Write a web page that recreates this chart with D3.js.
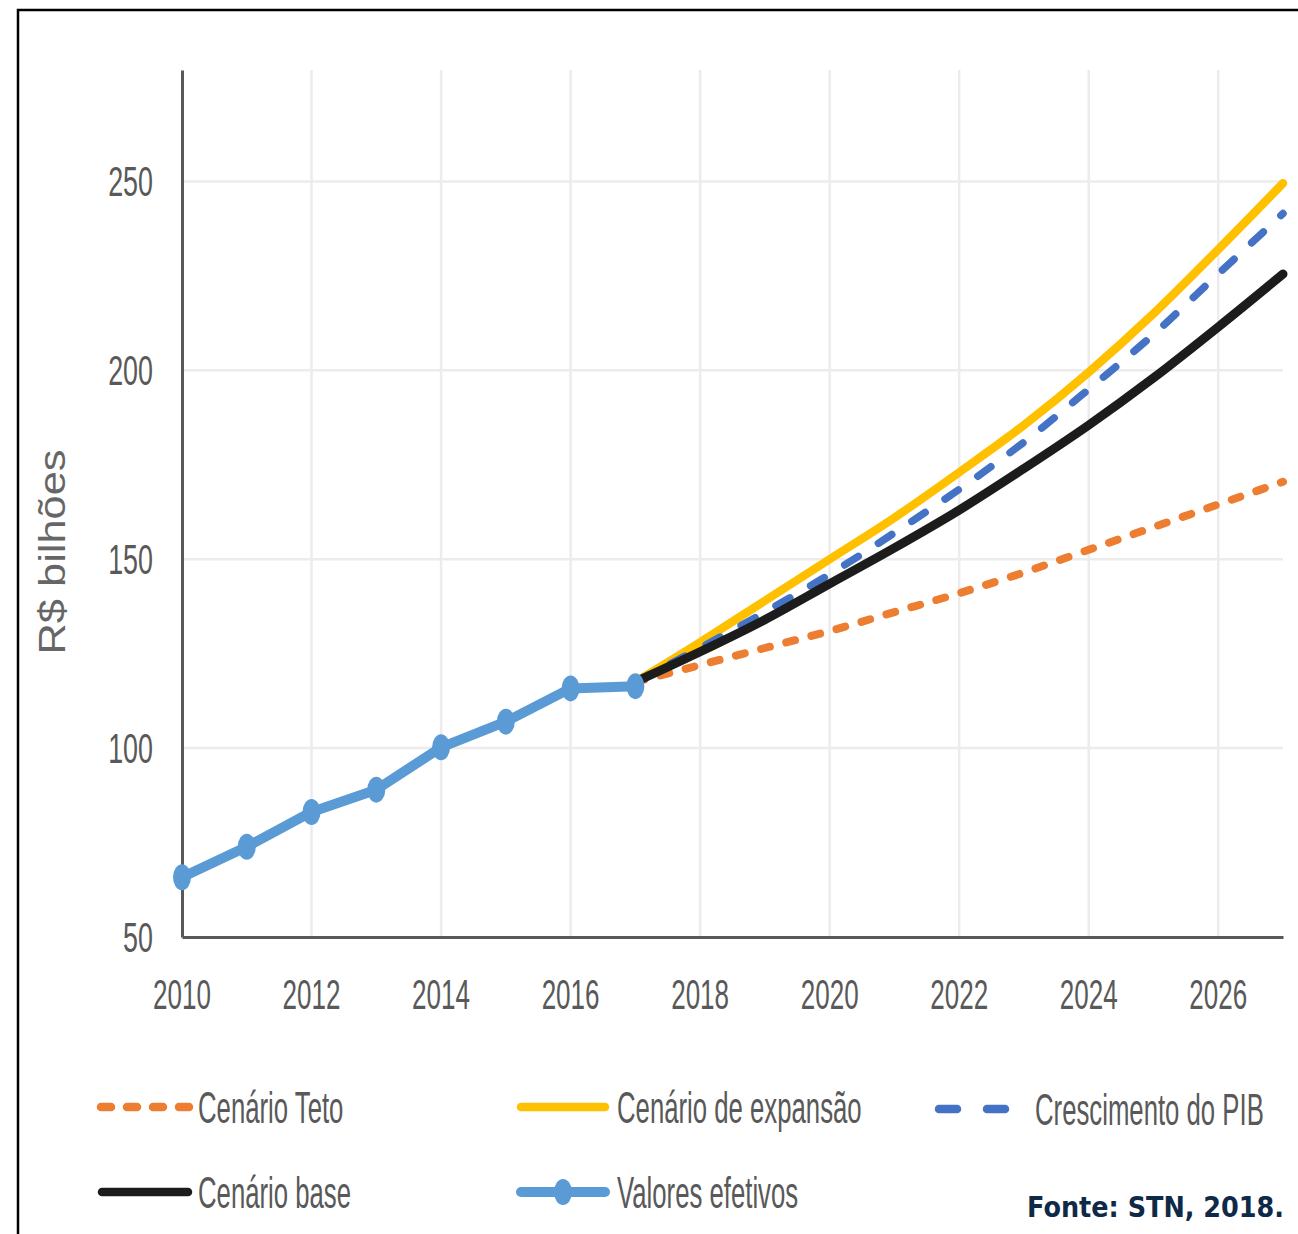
<!DOCTYPE html>
<html>
<head>
<meta charset="utf-8">
<script src="https://cdn.jsdelivr.net/npm/d3@7"></script>
<style>
  html, body { margin: 0; padding: 0; background: #fff; }
  svg { display: block; }
</style>
</head>
<body>
<svg id="chart" width="1298" height="1234"></svg>
<script>
// Despesa observada (R$ bilhões)
const actualYears = [2010, 2011, 2012, 2013, 2014, 2015, 2016, 2017];
const actualValues = [65.8, 73.9, 83.1, 89.0, 100.2, 107.0, 115.8, 116.4];

// Projeções 2017–2027 por cenário
const projYears = [2017, 2018, 2019, 2020, 2021, 2022, 2023, 2024, 2025, 2026, 2027];
const tetoValues = [117.5, 122, 126.5, 131, 136, 141, 146.5, 152.5, 158.5, 164.5, 170.5];
const expansaoValues = [117.5, 128, 139, 150, 161, 173, 185.5, 199.5, 215, 232, 249.5];
const pibValues = [117.5, 126.5, 136, 146, 157, 168.5, 181, 195, 209.5, 225.5, 241.5];
const baseValues = [117.5, 125.5, 134, 143.5, 153, 163, 174, 185.5, 198, 211.5, 225.5];

const yTicks = [50, 100, 150, 200, 250];
const xTicks = [2010, 2012, 2014, 2016, 2018, 2020, 2022, 2024, 2026];

const seriesNames = ["Cenário Teto", "Cenário de expansão", "Crescimento do PIB", "Cenário base", "Valores efetivos"];

const svg = d3.select("#chart");
const FONT = "'Liberation Sans', Arial, sans-serif";
const GRAY = "#595959";

// moldura
svg.append("rect")
  .attr("x", 18).attr("y", 10)
  .attr("width", 1320).attr("height", 1260)
  .attr("fill", "none").attr("stroke", "#000").attr("stroke-width", 2.5);

const x = d3.scaleLinear().domain([2010, 2027]).range([182, 1283]);
const y = d3.scaleLinear().domain([50, 279.5]).range([937, 70]);

// texto condensado
function label(g, txt, px, py, opts) {
  return g.append("text")
    .attr("transform", `translate(${px},${py}) scale(${opts.sx},1)`)
    .attr("font-family", opts.family || FONT)
    .attr("font-size", opts.size)
    .attr("font-weight", opts.weight || "normal")
    .attr("fill", opts.fill || GRAY)
    .attr("text-anchor", opts.anchor || "start")
    .text(txt);
}

// grade
const grid = svg.append("g");
grid.selectAll("line.h").data(yTicks.filter(v => v > 50)).join("line")
  .attr("x1", x(2010)).attr("x2", x(2027))
  .attr("y1", d => y(d)).attr("y2", d => y(d))
  .attr("stroke", "#ececec").attr("stroke-width", 2.5);
grid.selectAll("line.v").data(xTicks.filter(v => v > 2010)).join("line")
  .attr("x1", d => x(d)).attr("x2", d => x(d))
  .attr("y1", y.range()[1]).attr("y2", y(50))
  .attr("stroke", "#ececec").attr("stroke-width", 2.5);

// eixos
const yAxis = svg.append("g").attr("transform", `translate(${x(2010)},0)`)
  .call(d3.axisLeft(y).tickValues(yTicks).tickSize(0).tickFormat(""));
yAxis.select(".domain").attr("stroke", GRAY).attr("stroke-width", 3);
const xAxis = svg.append("g").attr("transform", `translate(0,${y(50)})`)
  .call(d3.axisBottom(x).tickValues(xTicks).tickSize(0).tickFormat(""));
xAxis.select(".domain").attr("stroke", GRAY).attr("stroke-width", 3);

const tickG = svg.append("g");
yTicks.forEach(v => label(tickG, String(v), 153, y(v) + 15, { size: 42, sx: 0.64, anchor: "end" }));
xTicks.forEach(v => label(tickG, String(v), x(v), 1009, { size: 42, sx: 0.62, anchor: "middle" }));

// título do eixo
svg.append("text")
  .attr("transform", `translate(65,${552}) rotate(-90)`)
  .attr("font-family", FONT).attr("font-size", 36)
  .attr("fill", "#666").attr("text-anchor", "middle")
  .attr("textLength", 205).attr("lengthAdjust", "spacingAndGlyphs")
  .text("R$ bilhões");

// linhas
const smooth = d3.line().x((d, i) => x(projYears[i])).y(d => y(d)).curve(d3.curveMonotoneX);
const straight = d3.line().x((d, i) => x(actualYears[i])).y(d => y(d));

const styles = {
  teto: { color: "#ED7D31", width: 8, dash: "9 17", cap: "round" },
  expansao: { color: "#FFC000", width: 8.5, dash: null, cap: "round" },
  pib: { color: "#4472C4", width: 7.5, dash: "16 24", cap: "round" },
  base: { color: "#1c1c1c", width: 9, dash: null, cap: "round" },
  efetivos: { color: "#5B9BD5", width: 10, dash: null, cap: "round" }
};

const lines = svg.append("g");
[["teto", tetoValues], ["expansao", expansaoValues], ["pib", pibValues], ["base", baseValues]].forEach(([k, vals]) => {
  const s = styles[k];
  lines.append("path").datum(vals)
    .attr("d", smooth)
    .attr("fill", "none")
    .attr("stroke", s.color)
    .attr("stroke-width", s.width)
    .attr("stroke-linecap", s.cap)
    .attr("stroke-linejoin", "round")
    .attr("stroke-dasharray", s.dash);
});

lines.append("path").datum(actualValues)
  .attr("d", straight)
  .attr("fill", "none")
  .attr("stroke", styles.efetivos.color)
  .attr("stroke-width", styles.efetivos.width)
  .attr("stroke-linejoin", "round");
lines.selectAll("ellipse.m").data(actualValues).join("ellipse")
  .attr("cx", (d, i) => x(actualYears[i]))
  .attr("cy", d => y(d))
  .attr("rx", 9).attr("ry", 13)
  .attr("fill", styles.efetivos.color);

// legenda
const leg = svg.append("g");
const legendItems = [
  { key: "teto", name: seriesNames[0], x0: 101, x1: 189, tx: 198, row: 1107 },
  { key: "expansao", name: seriesNames[1], x0: 521, x1: 605, tx: 617, row: 1107 },
  { key: "pib", name: seriesNames[2], x0: 939, x1: 1006, tx: 1035, row: 1109 },
  { key: "base", name: seriesNames[3], x0: 102, x1: 188, tx: 198, row: 1192 },
  { key: "efetivos", name: seriesNames[4], x0: 521, x1: 605, tx: 617, row: 1192 }
];
legendItems.forEach(it => {
  const s = styles[it.key];
  let dash = s.dash;
  if (it.key === "teto") dash = "10 16";
  if (it.key === "pib") dash = "18 30";
  leg.append("line")
    .attr("x1", it.x0).attr("x2", it.x1).attr("y1", it.row).attr("y2", it.row)
    .attr("stroke", s.color).attr("stroke-width", it.key === "efetivos" ? 10 : 8.5)
    .attr("stroke-linecap", "round")
    .attr("stroke-dasharray", dash);
  if (it.key === "efetivos") {
    leg.append("ellipse").attr("cx", (it.x0 + it.x1) / 2).attr("cy", it.row)
      .attr("rx", 9).attr("ry", 13).attr("fill", s.color);
  }
  label(leg, it.name, it.tx, it.row + 16, { size: 44, sx: 0.585 });
});

// fonte
label(svg, "Fonte: STN, 2018.", 1027, 1217, {
  family: "'DejaVu Sans', Verdana, sans-serif",
  weight: "bold", size: 29, sx: 0.88, fill: "#0f2a47"
});
</script>
</body>
</html>
